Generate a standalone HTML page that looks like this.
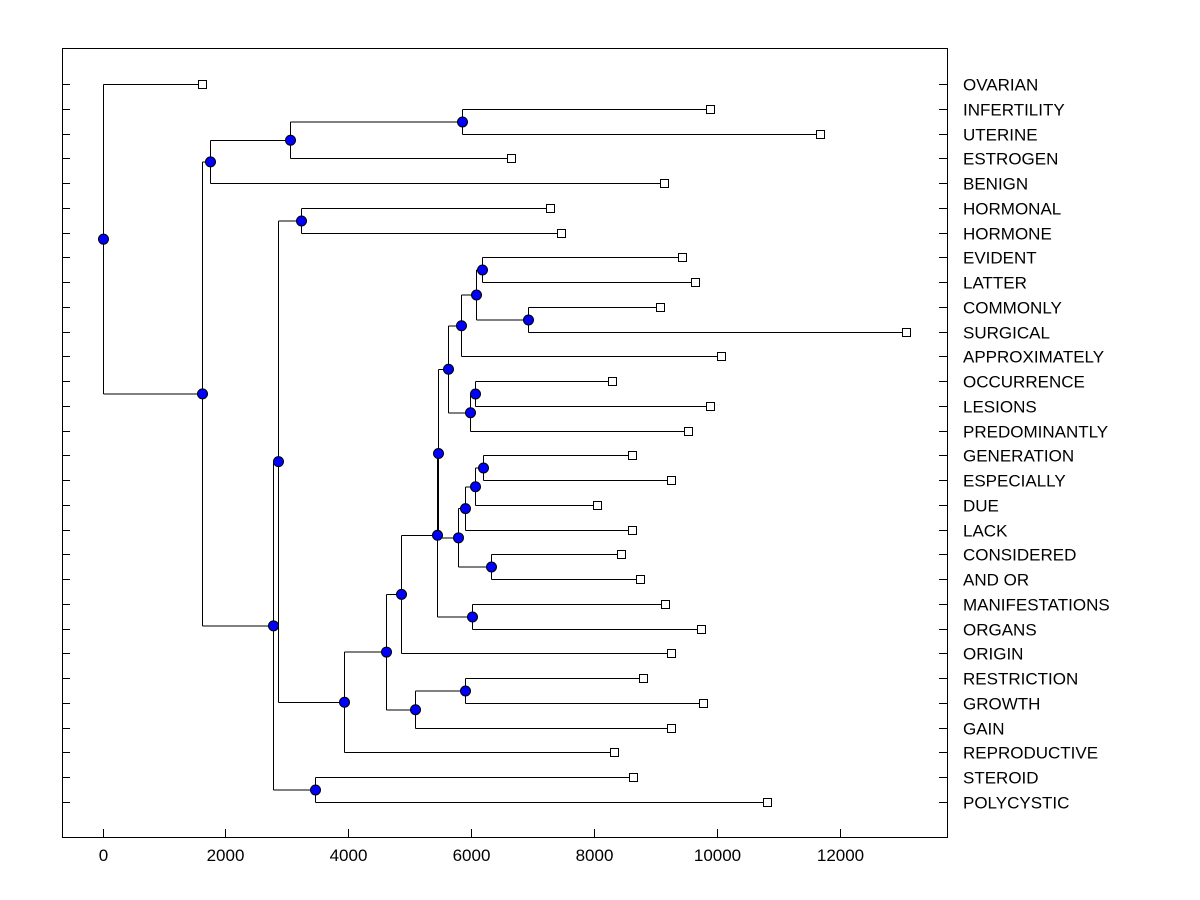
<!DOCTYPE html>
<html><head><meta charset="utf-8"><style>
html,body{margin:0;padding:0;background:#fff;width:1200px;height:900px;overflow:hidden}
svg text{font-family:"Liberation Sans",Arial,sans-serif;font-size:17px;fill:#000}
</style></head><body>
<svg id="chart" width="1200" height="900" xmlns="http://www.w3.org/2000/svg" shape-rendering="crispEdges">
<rect x="62.5" y="48.5" width="885" height="789" fill="none" stroke="#000" stroke-width="1"/>
<g id="g-links"></g>
<g id="g-marks"></g>
<g id="g-axes"></g>
</svg>
<script>
const labels = ["OVARIAN","INFERTILITY","UTERINE","ESTROGEN","BENIGN","HORMONAL","HORMONE","EVIDENT","LATTER","COMMONLY","SURGICAL","APPROXIMATELY","OCCURRENCE","LESIONS","PREDOMINANTLY","GENERATION","ESPECIALLY","DUE","LACK","CONSIDERED","AND OR","MANIFESTATIONS","ORGANS","ORIGIN","RESTRICTION","GROWTH","GAIN","REPRODUCTIVE","STEROID","POLYCYSTIC"];
const leafValues = [1612,9883,11690,6659,9134,7278,7457,9427,9639,9069,13090,10062,8303,9899,9525,8613,9248,8043,8613,8434,8759,9166,9752,9248,8808,9785,9264,8320,8645,10811];
const nodes = [
 ["E",5861,1,2],["D",3045,"E",3],["B",1758,"D",4],
 ["G",3452,28,29],["H",3224,5,6],["M",5894,24,25],["L",5096,"M",26],
 ["P",6008,21,22],["V",6171,7,8],["W",6920,9,10],["U",6073,"V","W"],
 ["S",5845,"U",11],["X",6057,12,13],["T",5991,"X",14],["Q",5633,"S","T"],
 ["BB",6203,15,16],["AA",6057,"BB",17],["Y",5894,"AA",18],["Z",6333,19,20],
 ["R",5780,"Y","Z"],["O",5470,"Q","R"],["N",5438,"O","P"],["K",4868,"N",23],
 ["J",4608,"K","L"],["I",3940,"J",27],["F",2865,"H","I"],["C",2784,"F","G"],
 ["A",1628,"B","C"],["ROOT",0,0,"A"]
];
const xTicks = [0,2000,4000,6000,8000,10000,12000];

const NS="http://www.w3.org/2000/svg";
const X0=102.5, PX=0.06142;
const xs=v=>Math.round(X0+v*PX)+0.5;
const rowY=i=>Math.round(84+i*(802-84)/29)+0.5;
const links=document.getElementById('g-links'), marks=document.getElementById('g-marks'), axes=document.getElementById('g-axes');
function mk(p,tag,a){const e=document.createElementNS(NS,tag);for(const k in a)e.setAttribute(k,a[k]);p.appendChild(e);return e;}
const pos={};
function get(c){ if(typeof c==="number") return {x:xs(leafValues[c]),y:rowY(c)}; return pos[c]; }
nodes.forEach(n=>{
  const a=get(n[2]), b=get(n[3]); const x=xs(n[1]); const y=(a.y+b.y)/2;
  pos[n[0]]={x,y};
  let l=mk(links,'path',{d:`M${x},${a.y}V${b.y}M${x},${a.y}H${a.x}M${x},${b.y}H${b.x}`,stroke:'#000','stroke-width':1,fill:'none'});
  
  
});
nodes.forEach(n=>{
  const p=pos[n[0]];
  let c=mk(marks,'circle',{cx:p.x,cy:p.y,r:5,fill:'#0000ff',stroke:'#000','stroke-width':1,'shape-rendering':'auto'});
  
  
});
labels.forEach((lab,i)=>{
  const x=xs(leafValues[i]), y=rowY(i);
  let r=mk(marks,'rect',{x:x-4,y:y-4,width:8,height:8,fill:'#fff',stroke:'#000','stroke-width':1});
  
  
  let t1=mk(axes,'line',{x1:62,y1:y,x2:70,y2:y,stroke:'#000'});
  
  
  let t2=mk(axes,'line',{x1:939,y1:y,x2:947,y2:y,stroke:'#000'});
  
  
  let t=mk(axes,'text',{x:963,y:y+6});
  t.textContent=lab;
  
  
});
xTicks.forEach(v=>{
  const x=xs(v);
  let l=mk(axes,'line',{x1:x,y1:829,x2:x,y2:837,stroke:'#000'});
  
  
  let t=mk(axes,'text',{x:x,y:861,'text-anchor':'middle'});
  t.textContent=v;
  
  
});
</script>
</body></html>
